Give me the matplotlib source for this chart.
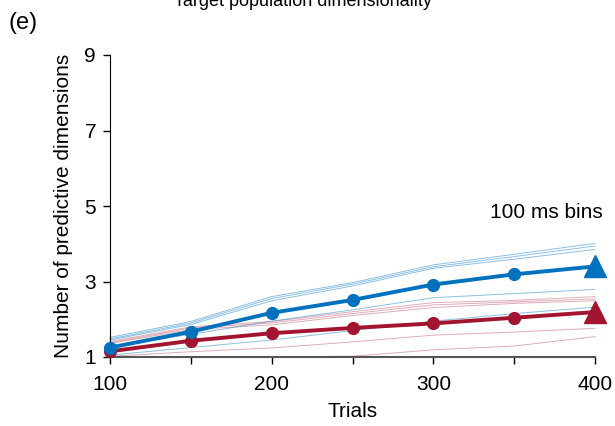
import matplotlib
matplotlib.use('Agg')
import matplotlib.pyplot as plt

plt.rcParams['font.family'] = ['Liberation Sans', 'DejaVu Sans']

trials = [100, 150, 200, 250, 300, 350, 400]

# mean curves
blue_mean = [1.25, 1.67, 2.17, 2.51, 2.92, 3.19, 3.40]
red_mean = [1.15, 1.43, 1.63, 1.77, 1.89, 2.04, 2.19]

# individual curves
blue_thin = [
    [1.52, 1.94, 2.60, 2.97, 3.44, 3.72, 4.01],
    [1.48, 1.90, 2.55, 2.93, 3.39, 3.66, 3.94],
    [1.45, 1.86, 2.49, 2.88, 3.35, 3.59, 3.85],
    [1.27, 1.60, 1.95, 2.25, 2.57, 2.68, 2.79],
    [1.05, 1.25, 1.45, 1.70, 1.95, 2.15, 2.32],
]
red_thin = [
    [1.41, 1.80, 1.94, 2.20, 2.44, 2.50, 2.60],
    [1.38, 1.77, 1.90, 2.15, 2.38, 2.46, 2.54],
    [1.36, 1.73, 1.85, 2.10, 2.31, 2.42, 2.49],
    [1.02, 1.14, 1.24, 1.40, 1.58, 1.66, 1.76],
    [1.00, 1.00, 1.00, 1.02, 1.19, 1.29, 1.54],
]

blue = '#0072BD'
red = '#A2142F'

fig = plt.figure(figsize=(6.15, 4.26), dpi=100)
ax = fig.add_axes([110/615, 1-357/426, 485/615, 302/426])

for y in red_thin:
    ax.plot(trials, y, color=red, lw=0.7, alpha=0.35, clip_on=False)
for y in blue_thin:
    ax.plot(trials, y, color=blue, lw=0.7, alpha=0.45, clip_on=False)

ax.plot(trials, red_mean, color=red, lw=2.8, clip_on=False, zorder=4)
ax.plot(trials[:-1], red_mean[:-1], 'o', color=red, ms=8.5, clip_on=False, zorder=5)
ax.plot(trials[-1], red_mean[-1], '^', color=red, ms=16, clip_on=False, zorder=5)
ax.plot(trials, blue_mean, color=blue, lw=2.8, clip_on=False, zorder=4)
ax.plot(trials[:-1], blue_mean[:-1], 'o', color=blue, ms=8.5, clip_on=False, zorder=5)
ax.plot(trials[-1], blue_mean[-1], '^', color=blue, ms=16, clip_on=False, zorder=5)

ax.set_xlim(100, 400)
ax.set_ylim(1, 9)
ax.set_xticks(trials)
ax.set_xticklabels(['100', '', '200', '', '300', '', '400'])
ax.set_yticks([1, 3, 5, 7, 9])
ax.tick_params(labelsize=15, direction='out', length=5, width=1)
ax.tick_params(axis='x', pad=8)
ax.tick_params(axis='y', pad=5)
ax.spines['top'].set_visible(False)
ax.spines['right'].set_visible(False)
ax.spines['bottom'].set_color('#555555')
ax.spines['bottom'].set_linewidth(1.5)

ax.set_xlabel('Trials', fontsize=15, labelpad=6)
ax.set_ylabel('Number of predictive dimensions', fontsize=15, labelpad=8)

ax.text(603/615, 1-212/426, '100 ms bins', transform=fig.transFigure,
        fontsize=15, ha='right', va='center')
fig.text(8/615, 1-12/426, '(e)', fontsize=17, ha='left', va='top')
# title is cut at the top edge, as in the source figure
fig.text(303/615, 1-6/426, 'Target population dimensionality', fontsize=13,
         ha='center', va='baseline')

fig.savefig('out.png', dpi=100)
